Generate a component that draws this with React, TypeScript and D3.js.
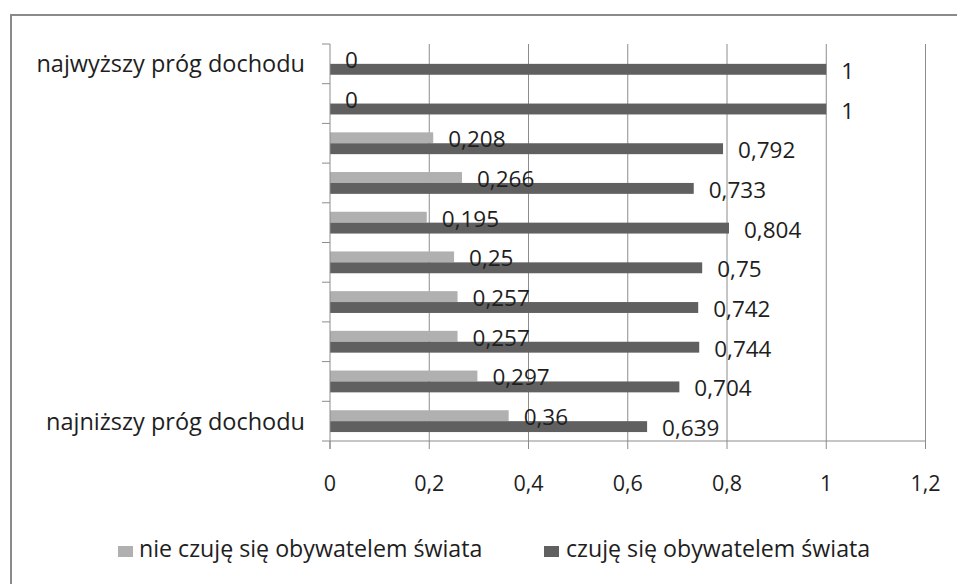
import React from "react";
import * as d3 from "d3";

const categories = ["c10", "c9", "c8", "c7", "c6", "c5", "c4", "c3", "c2", "c1"];
const categoryLabels = ["najwyższy próg dochodu", "", "", "", "", "", "", "", "", "najniższy próg dochodu"];
const seriesNames = ["nie czuję się obywatelem świata", "czuję się obywatelem świata"];
const notCitizen = [0, 0, 0.208, 0.266, 0.195, 0.25, 0.257, 0.257, 0.297, 0.36];
const citizen = [1, 1, 0.792, 0.733, 0.804, 0.75, 0.742, 0.744, 0.704, 0.639];
const xTicks = [0, 0.2, 0.4, 0.6, 0.8, 1, 1.2];
const colors = ["#b0b0b0", "#606060"];

const W = 957;
const H = 584;
const FONT = "'Open Sans', sans-serif";

function fmt(v: number): string {
  return String(v).replace(".", ",");
}

export default function App() {
  const x = d3.scaleLinear().domain([0, 1.2]).range([330, 925.5]);
  const y = d3.scaleBand<string>().domain(categories).range([44, 441]).paddingInner(0).paddingOuter(0);
  const inner = d3
    .scaleBand<string>()
    .domain(["s0", "s1"])
    .range([0, y.bandwidth()])
    .paddingInner(0)
    .paddingOuter(0.82);
  const series = [notCitizen, citizen];
  const textColor = "#1e1e1e";
  const gridColor = "#8c8c8c";

  return (
    <svg
      width={W}
      height={H}
      style={{ position: "fixed", left: 0, top: 0, background: "#fff" }}
      fontFamily={FONT}
    >
      <rect x={0} y={0} width={W} height={H} fill="#fff" />
      <rect x={11} y={15} width={W + 20} height={H + 20} fill="none" stroke="#8a8a8a" strokeWidth={2} />

      {/* gridlines */}
      {xTicks.slice(1).map((t) => (
        <line key={"g" + t} x1={x(t)} x2={x(t)} y1={44} y2={441} stroke={gridColor} strokeWidth={1} />
      ))}

      {/* bars */}
      {series.map((vals, si) =>
        vals.map((v, i) => (
          <rect
            key={"b" + si + "-" + i}
            x={x(0)}
            y={(y(categories[i]) as number) + (inner("s" + si) as number)}
            width={x(v) - x(0)}
            height={inner.bandwidth()}
            fill={colors[si]}
          />
        ))
      )}

      {/* axes */}
      <line x1={x(0)} x2={x(0)} y1={44} y2={449} stroke={gridColor} strokeWidth={1} />
      <line x1={x(0)} x2={x(1.2)} y1={441} y2={441} stroke={gridColor} strokeWidth={1} />
      {categories.map((c) => (
        <line key={"yt" + c} x1={322} x2={x(0)} y1={y(c)} y2={y(c)} stroke={gridColor} strokeWidth={1} />
      ))}
      <line x1={322} x2={x(0)} y1={441} y2={441} stroke={gridColor} strokeWidth={1} />
      {xTicks.map((t) => (
        <line key={"xt" + t} x1={x(t)} x2={x(t)} y1={441} y2={449} stroke={gridColor} strokeWidth={1} />
      ))}

      {/* x tick labels */}
      {xTicks.map((t) => (
        <text key={"xl" + t} x={x(t)} y={491} textAnchor="middle" fontSize={21.5} fill={textColor}>
          {fmt(t)}
        </text>
      ))}

      {/* category labels */}
      {categories.map((c, i) => (
        <text
          key={"cl" + c}
          x={305}
          y={(y(c) as number) + y.bandwidth() / 2 + 8.5}
          textAnchor="end"
          fontSize={23.5}
          fill={textColor}
        >
          {categoryLabels[i]}
        </text>
      ))}

      {/* value labels */}
      {series.map((vals, si) =>
        vals.map((v, i) => (
          <text
            key={"vl" + si + "-" + i}
            x={x(v) + 15}
            y={(y(categories[i]) as number) + (inner("s" + si) as number) + inner.bandwidth() / 2 + 9.5}
            fontSize={22.5}
            fill={textColor}
          >
            {fmt(v)}
          </text>
        ))
      )}

      {/* legend */}
      <rect x={118} y={546} width={15} height={11} fill={colors[0]} />
      <text x={139} y={557} fontSize={23.2} fill={textColor}>
        {seriesNames[0]}
      </text>
      <rect x={544} y={546} width={15} height={11} fill={colors[1]} />
      <text x={566} y={557} fontSize={23.2} fill={textColor}>
        {seriesNames[1]}
      </text>
    </svg>
  );
}
